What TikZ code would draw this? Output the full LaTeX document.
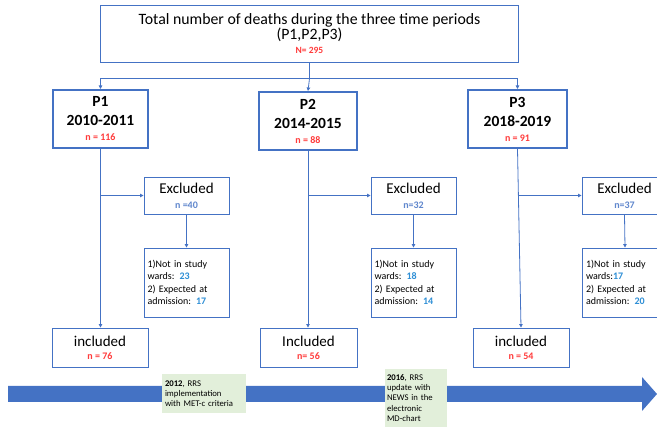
\documentclass[tikz,border=0pt]{standalone}
\usepackage{fontspec}
\setmainfont{Carlito}
\usepackage{tikz}
\usetikzlibrary{arrows.meta, positioning, calc}

\definecolor{boxblue}{HTML}{4472C4}
\definecolor{numred}{HTML}{FF3B3B}
\definecolor{numblue}{HTML}{2E8FD6}
\definecolor{notegreen}{HTML}{E2EFDA}

\begin{document}
\begin{tikzpicture}[
        x=1pt, y=-1pt,
        topbox/.style={rectangle, draw=boxblue, line width=0.9pt, fill=white, minimum width=418pt, minimum height=57pt, align=center, inner sep=2pt},
        period/.style={rectangle, draw=boxblue, line width=2pt, fill=white, minimum height=58pt, align=center, font=\fontsize{15.5}{19}\selectfont\bfseries},
        exclbox/.style={rectangle, draw=boxblue, line width=0.9pt, fill=white, minimum width=85pt, minimum height=37pt, align=center, font=\fontsize{15}{17}\selectfont},
        detbox/.style={rectangle, draw=boxblue, line width=0.9pt, fill=white, minimum width=85pt, minimum height=69pt, text width=78pt, align=left, font=\fontsize{10}{12.3}\selectfont},
        inclbox/.style={rectangle, draw=boxblue, line width=0.9pt, fill=white, minimum width=96pt, minimum height=39pt, align=center, font=\fontsize{15}{17}\selectfont},
        note/.style={rectangle, fill=notegreen, align=left, font=\fontsize{8.7}{10.2}\selectfont, inner sep=0pt},
        conn/.style={draw=boxblue, line width=0.8pt},
        arrow/.style={conn, -{Triangle[length=3.5pt, width=3.5pt]}}
    ]
        \useasboundingbox (0,0) rectangle (657,427);
        \clip (0,0) rectangle (657,427);

        % Timeline
        \fill[boxblue] (8,386) -- (642,386) -- (642,377) -- (657,394) -- (642,411) -- (642,402) -- (8,402) -- cycle;
        \node[note, minimum width=84pt, minimum height=39pt, text width=78pt] (note1) at (204,393.5) {\textbf{2012}, RRS\\implementation\\with MET-c criteria};
        \node[note, minimum width=62pt, minimum height=58pt, text width=58pt] (note2) at (416,398) {\textbf{2016}, RRS\\update with\\NEWS in the\\electronic\\MD-chart};

        % Total
        \node[topbox] (total) at (309.5,33.5) {{\fontsize{15.8}{16}\selectfont Total number of deaths during the three time periods}\\{\fontsize{15.8}{16}\selectfont (P1,P2,P3)}\\[2pt]{\fontsize{9.5}{10}\selectfont\bfseries\color{numred}N= 295}};

        % Periods
        \node[period, minimum width=95pt] (p1) at (100.5,119) {P1\\2010-2011\\[-4pt]{\fontsize{10}{11}\selectfont\color{numred}n = 116}};
        \node[period, minimum width=98pt] (p2) at (308,121) {P2\\2014-2015\\[-4pt]{\fontsize{10}{11}\selectfont\color{numred}n = 88}};
        \node[period, minimum width=99pt] (p3) at (517.5,119) {P3\\2018-2019\\[-4pt]{\fontsize{10}{11}\selectfont\color{numred}n = 91}};

        \draw[conn] (total.south) -- ++(0,16) coordinate (split);
        \draw[arrow] (split) -| (p1.north);
        \draw[arrow] (split) -- (p2.north);
        \draw[arrow] (split) -| (p3.north);

        % Excluded
        \node[exclbox] (exc1) at (186.5,195.5) {Excluded\\[-2pt]{\fontsize{10}{11}\selectfont\bfseries\color{boxblue!85}n =40}};
        \node[exclbox] (exc2) at (413.5,195.5) {Excluded\\[-2pt]{\fontsize{10}{11}\selectfont\bfseries\color{boxblue!85}n=32}};
        \node[exclbox] (exc3) at (624.5,195.5) {Excluded\\[-2pt]{\fontsize{10}{11}\selectfont\bfseries\color{boxblue!85}n=37}};

        \node[detbox] (det1) at (186.5,282.5) {1)Not in study\\wards: \textbf{\color{numblue}23}\\2) Expected at\\admission: \textbf{\color{numblue}17}\\[8pt]};
        \node[detbox] (det2) at (413.5,282.5) {1)Not in study\\wards: \textbf{\color{numblue}18}\\2) Expected at\\admission: \textbf{\color{numblue}14}\\[8pt]};
        \node[detbox] (det3) at (625,282.5) {1)Not in study\\wards:\textbf{\color{numblue}17}\\2) Expected at\\admission: \textbf{\color{numblue}20}\\[8pt]};

        % Included
        \node[inclbox] (inc1) at (100,347.5) {included\\[-4pt]{\fontsize{10}{11}\selectfont\bfseries\color{numred}n = 76}};
        \node[inclbox, minimum width=97pt] (inc2) at (308.5,347.5) {Included\\[-4pt]{\fontsize{10}{11}\selectfont\bfseries\color{numred}n= 56}};
        \node[inclbox] (inc3) at (521,347.5) {included\\[-4pt]{\fontsize{10}{11}\selectfont\bfseries\color{numred}n = 54}};

        \draw[arrow] (p1.south) -- (inc1.north -| p1.south);
        \draw[arrow] (p2.south) -- (inc2.north -| p2.south);
        \draw[arrow] (p3.south) -- (inc3.north);
        \draw[arrow] (p1.south |- exc1.west) -- (exc1.west);
        \draw[arrow] (p2.south |- exc2.west) -- (exc2.west);
        \draw[arrow] (p3.south |- exc3.west) -- (exc3.west);
        \draw[arrow] (exc1.south) -- (det1.north);
        \draw[arrow] (exc2.south) -- (det2.north);
        \draw[arrow] (exc3.south) -- (det3.north);
    \end{tikzpicture}
\end{document}
